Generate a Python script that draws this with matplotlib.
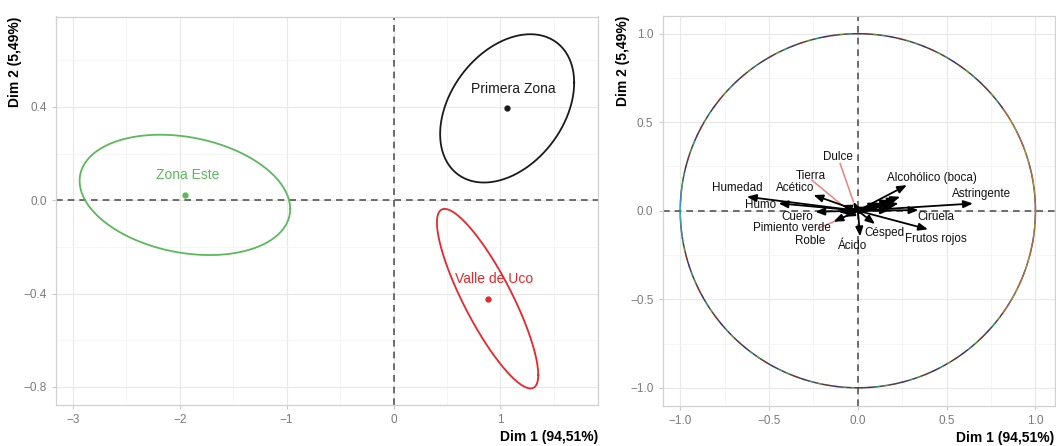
import numpy as np
import matplotlib.pyplot as plt

plt.rcParams['font.family'] = ['Liberation Sans', 'DejaVu Sans']

# Individuals: group centres and confidence ellipses (half-widths + correlation)
groups = ["Primera Zona", "Zona Este", "Valle de Uco"]
group_colors = ["#1a1a1a", "#5cb85c", "#e8262b"]
center_x = [1.063, -1.952, 0.880]
center_y = [0.394, 0.023, -0.422]
ell_half_x = [0.627, 0.985, 0.474]
ell_half_y = [0.318, 0.258, 0.385]
ell_corr = [0.346, -0.234, -0.848]

# Variables: correlation-circle coordinates
var_names = ["Humedad", "Humo", "Acético", "Cuero", "Tierra", "Dulce",
             "Pimiento verde", "Roble", "Ácido", "Césped", "Frutos rojos",
             "Ciruela", "Astringente", "Alcohólico (boca)",
             "", "", "", "", "", "", "", "", "", ""]
var_x = [-0.625, -0.447, -0.250, -0.240, -0.090, -0.025,
         -0.137, -0.072, 0.013, 0.097, 0.395,
         0.341, 0.648, 0.276,
         0.238, 0.220, 0.182, 0.229, 0.200, 0.144, 0.116, 0.058, 0.180, -0.109]
var_y = [0.079, 0.042, 0.089, -0.006, 0.032, 0.051,
         -0.062, -0.034, -0.145, -0.075, -0.105,
         0.004, 0.041, 0.145,
         0.079, 0.070, 0.060, 0.042, 0.035, 0.042, 0.045, 0.023, 0.004, -0.006]
label_x = [-0.679, -0.547, -0.351, -0.340, -0.265, -0.115,
           -0.374, -0.269, -0.030, 0.148, 0.442,
           0.442, 0.694, 0.417]
label_y = [0.126, 0.032, 0.126, -0.038, 0.196, 0.305,
           -0.098, -0.169, -0.200, -0.128, -0.158,
           -0.038, 0.092, 0.183]
# repelled labels get a segment from the text back to the arrow tip
segment_from = {"Tierra": (-0.259, 0.173), "Dulce": (-0.100, 0.267),
                "Roble": (-0.222, -0.099)}

x_title = "Dim 1 (94,51%)"
y_title = "Dim 2 (5,49%)"

W, H = 1056, 446
fig = plt.figure(figsize=(W / 100, H / 100), dpi=100)
ax1 = fig.add_axes([56 / W, 1 - 405 / H, (598 - 56) / W, (405 - 16.5) / H])
ax2 = fig.add_axes([662.5 / W, 1 - 405.5 / H, (1055 - 662.5) / W, (405.5 - 16) / H])


def style(ax):
    for s in ax.spines.values():
        s.set_color("#d0d0d0")
        s.set_linewidth(0.9)
    ax.grid(which="major", color="#e8e8e8", lw=0.8, zorder=0)
    ax.grid(which="minor", color="#f2f2f2", lw=0.5, zorder=0)
    ax.tick_params(which="major", colors="#cccccc", labelcolor="#7a7a7a",
                   labelsize=8.5, length=3, width=0.8)
    ax.tick_params(which="minor", length=0)
    ax.set_axisbelow(True)
    ax.axhline(0, color="#555555", lw=1.2, ls=(0, (4, 3)), zorder=1)
    ax.axvline(0, color="#555555", lw=1.2, ls=(0, (4, 3)), zorder=1)


# ---- Individuals plot ----
style(ax1)
ax1.set_xlim(-3.158, 1.913)
ax1.set_ylim(-0.878, 0.788)
ax1.set_xticks([-3, -2, -1, 0, 1])
ax1.set_xticks([-2.5, -1.5, -0.5, 0.5, 1.5], minor=True)
ax1.set_yticks([-0.8, -0.4, 0.0, 0.4])
ax1.set_yticklabels(["\u22120.8", "\u22120.4", "0.0", "0.4"])
ax1.set_xticklabels(["\u22123", "\u22122", "\u22121", "0", "1"])
ax1.set_yticks([-0.6, -0.2, 0.2, 0.6], minor=True)

t = np.linspace(0, 2 * np.pi, 300)
for i, g in enumerate(groups):
    sx, sy, r = ell_half_x[i], ell_half_y[i], ell_corr[i]
    cov = np.array([[sx * sx, r * sx * sy], [r * sx * sy, sy * sy]])
    L = np.linalg.cholesky(cov)
    pts = L @ np.vstack([np.cos(t), np.sin(t)])
    ax1.plot(center_x[i] + pts[0], center_y[i] + pts[1], color=group_colors[i],
             lw=1.3, zorder=3)
    ax1.plot(center_x[i], center_y[i], "o", color=group_colors[i], ms=3.5, zorder=4)
    ax1.text(center_x[i] + 0.06 if i != 1 else center_x[i] + 0.025,
             center_y[i] + 0.085, g, color=group_colors[i],
             fontsize=10, ha="center", va="center", zorder=4)

fig.text(598 / W, 1 - 437 / H, x_title, ha="right", va="center",
         fontsize=10, fontweight="bold")
fig.text(15 / W, 1 - 16.5 / H, y_title, ha="center", va="top",
         rotation=90, fontsize=10, fontweight="bold")

# ---- Variables plot ----
style(ax2)
ax2.set_xlim(-1.1, 1.11)
ax2.set_ylim(-1.1, 1.1)
ticks = [-1.0, -0.5, 0.0, 0.5, 1.0]
tick_text = ["\u22121.0", "\u22120.5", "0.0", "0.5", "1.0"]
ax2.set_xticks(ticks)
ax2.set_xticklabels(tick_text)
ax2.set_yticks(ticks)
ax2.set_yticklabels(tick_text)
ax2.set_xticks([-0.75, -0.25, 0.25, 0.75], minor=True)
ax2.set_yticks([-0.75, -0.25, 0.25, 0.75], minor=True)

# correlation circle, traced once per variable colour
th = np.linspace(0, 2 * np.pi, 400)
ax2.plot(np.cos(th), np.sin(th), color="#444444", lw=1.1, zorder=2)
hues = plt.cm.hsv(np.linspace(0, 0.9, 12))
for k in range(0, 399, 3):
    c = hues[(k * 7) % 12]
    ax2.plot(np.cos(th[k:k + 2]), np.sin(th[k:k + 2]), color=c, lw=0.9,
             alpha=0.45, zorder=2)
ax2.plot(np.cos(th[-40:]), np.sin(th[-40:]), color="#e8913a", lw=0.9, alpha=0.6, zorder=2)
ax2.plot(np.cos(th[:40]), np.sin(th[:40]), color="#e8913a", lw=0.9, alpha=0.6, zorder=2)
ax2.plot(np.cos(th[190:210]), np.sin(th[190:210]), color="#3fb8d8", lw=0.9, alpha=0.7, zorder=2)

for i in range(len(var_x)):
    ax2.annotate("", xy=(var_x[i], var_y[i]), xytext=(0, 0),
                 arrowprops=dict(arrowstyle="-|>,head_length=0.55,head_width=0.22",
                                 color="black", lw=1.3, shrinkA=0, shrinkB=0),
                 zorder=4)

for i, name in enumerate(var_names[:len(label_x)]):
    if name in segment_from:
        sx0, sy0 = segment_from[name]
        ax2.plot([sx0, var_x[i]], [sy0, var_y[i]], color="#f08080", lw=1.1, zorder=3)
    ax2.text(label_x[i], label_y[i], name, fontsize=8.4, ha="center", va="center",
             color="#111111", zorder=5)

fig.text(1054 / W, 1 - 438 / H, x_title, ha="right", va="center",
         fontsize=10, fontweight="bold")
fig.text(623 / W, 1 - 16 / H, y_title, ha="center", va="top",
         rotation=90, fontsize=10, fontweight="bold")

fig.savefig("out.png", dpi=100)
